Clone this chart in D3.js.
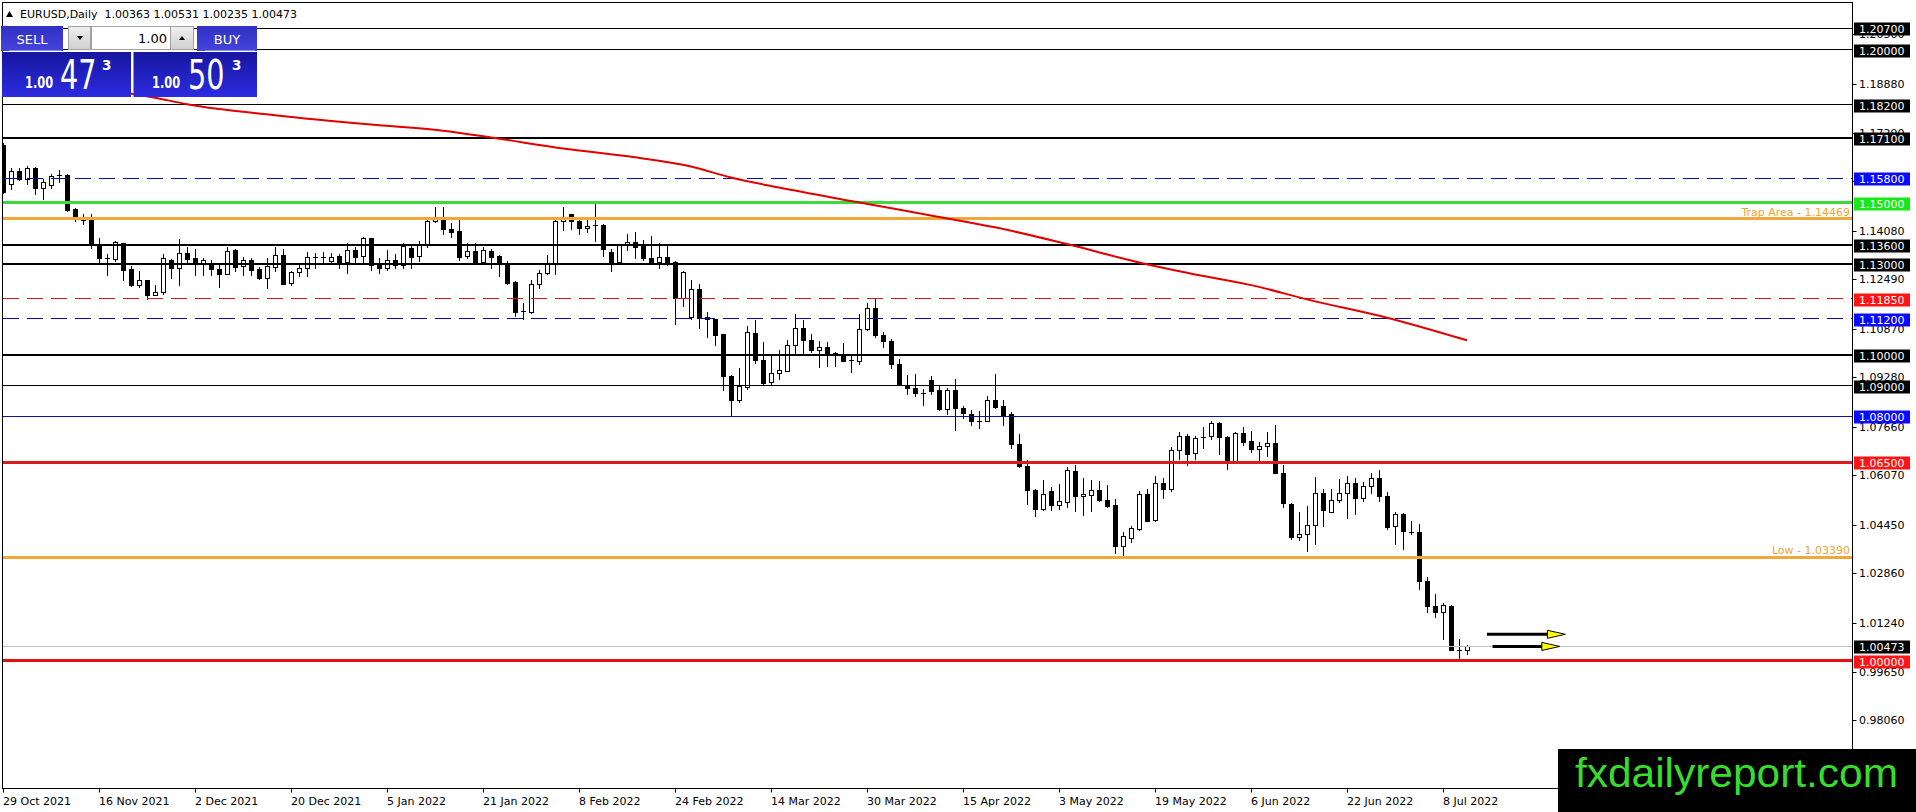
<!DOCTYPE html>
<html>
<head>
<meta charset="utf-8">
<script src="https://cdn.jsdelivr.net/npm/d3@7/dist/d3.min.js"></script>
<style>
html,body{margin:0;padding:0;background:#fff;overflow:hidden;}
svg{display:block;font-family:"DejaVu Sans",sans-serif;}
</style>
</head>
<body>
<svg id="chart" width="1916" height="812"></svg>
<script>
// ---------------- DATA ----------------
const symbolName = "EURUSD,Daily";
const dateLabels = ["29 Oct 2021","16 Nov 2021","2 Dec 2021","20 Dec 2021","5 Jan 2022","21 Jan 2022","8 Feb 2022","24 Feb 2022","14 Mar 2022","30 Mar 2022","15 Apr 2022","3 May 2022","19 May 2022","6 Jun 2022","22 Jun 2022","8 Jul 2022"];
const dateLabelBars = [0,12,24,36,48,60,72,84,96,108,120,132,144,156,168,180];

const opens = [1.1688,1.1560,1.1603,1.1576,1.1614,1.1549,1.1557,1.1588,1.1590,1.1480,1.1443,1.1445,1.1365,1.1317,1.1316,1.1366,1.1283,1.1230,1.1246,1.1196,
1.1206,1.1312,1.1287,1.1334,1.1318,1.1302,1.1298,1.1284,1.1266,1.1344,1.1291,1.1312,1.1281,1.1254,1.1290,1.1327,1.1237,1.1274,1.1285,1.1322,
1.1322,1.1310,1.1325,1.1307,1.1344,1.1324,1.1383,1.1298,1.1285,1.1311,1.1296,1.1351,1.1324,1.1364,1.1440,1.1453,1.1413,1.1407,1.1324,1.1341,
1.1307,1.1341,1.1324,1.1300,1.1240,1.1143,1.1143,1.1233,1.1269,1.1300,1.1438,1.1462,1.1440,1.1416,1.1426,1.1427,1.1339,1.1304,1.1360,1.1371,
1.1360,1.1317,1.1307,1.1322,1.1307,1.1187,1.1124,1.1216,1.1124,1.1120,1.1069,1.0931,1.0855,1.0896,1.1074,1.0986,1.0913,1.0943,1.0949,1.1033,
1.1091,1.1051,1.1016,1.1027,1.1006,1.1000,1.0984,1.0981,1.1087,1.1156,1.1068,1.1046,1.0973,1.0904,1.0894,1.0878,1.0920,1.0885,1.0825,1.0888,
1.0829,1.0809,1.0786,1.0785,1.0853,1.0833,1.0809,1.0711,1.0637,1.0558,1.0498,1.0555,1.0509,1.0520,1.0623,1.0538,1.0543,1.0559,1.0527,1.0510,
1.0377,1.0402,1.0432,1.0546,1.0461,1.0582,1.0561,1.0690,1.0735,1.0681,1.0731,1.0735,1.0779,1.0734,1.0652,1.0746,1.0719,1.0694,1.0702,1.0713,
1.0615,1.0514,1.0405,1.0415,1.0445,1.0550,1.0488,1.0525,1.0548,1.0581,1.0534,1.0572,1.0599,1.0541,1.0441,1.0481,1.0422,1.0423,1.0261,1.0181,
1.0159,1.0178,1.0037,1.00363];
const highs = [1.1695,1.1612,1.1614,1.1620,1.1616,1.1576,1.1594,1.1605,1.1594,1.1483,1.1461,1.1461,1.1383,1.1330,1.1374,1.1368,1.1292,1.1275,1.1248,1.1230,
1.1333,1.1316,1.1382,1.1355,1.1347,1.1320,1.1311,1.1298,1.1353,1.1347,1.1322,1.1320,1.1288,1.1320,1.1355,1.1347,1.1276,1.1298,1.1338,1.1336,
1.1338,1.1336,1.1333,1.1366,1.1355,1.1388,1.1385,1.1320,1.1344,1.1331,1.1366,1.1358,1.1375,1.1453,1.1484,1.1484,1.1432,1.1445,1.1367,1.1367,
1.1353,1.1347,1.1329,1.1309,1.1244,1.1171,1.1246,1.1279,1.1329,1.1445,1.1484,1.1464,1.1442,1.1445,1.1497,1.1429,1.1347,1.1364,1.1396,1.1402,
1.1377,1.1391,1.1367,1.1358,1.1309,1.1276,1.1246,1.1233,1.1142,1.1120,1.1071,1.0935,1.0960,1.1095,1.1117,1.1044,1.0997,1.1019,1.1049,1.1136,
1.1117,1.1071,1.1046,1.1044,1.1011,1.1040,1.1000,1.1136,1.1171,1.1185,1.1076,1.1055,1.0989,1.0937,1.0940,1.0891,1.0931,1.0902,1.0894,1.0924,
1.0833,1.0822,1.0817,1.0866,1.0938,1.0853,1.0815,1.0741,1.0656,1.0564,1.0593,1.0569,1.0578,1.0635,1.0642,1.0599,1.0592,1.0588,1.0577,1.0530,
1.0421,1.0443,1.0557,1.0563,1.0606,1.0599,1.0699,1.0748,1.0743,1.0737,1.0767,1.0786,1.0781,1.0737,1.0748,1.0765,1.0751,1.0715,1.0748,1.0773,
1.0642,1.0516,1.0486,1.0508,1.0603,1.0561,1.0563,1.0594,1.0606,1.0597,1.0584,1.0614,1.0626,1.0553,1.0486,1.0483,1.0459,1.0448,1.0274,1.0219,
1.0189,1.0184,1.0071,1.00531];
const lows = [1.1530,1.1543,1.1573,1.1560,1.1527,1.1511,1.1549,1.1568,1.1473,1.1441,1.1431,1.1352,1.1306,1.1262,1.1310,1.1248,1.1227,1.1225,1.1183,1.1196,
1.1202,1.1254,1.1230,1.1299,1.1262,1.1263,1.1263,1.1225,1.1266,1.1276,1.1263,1.1263,1.1250,1.1219,1.1276,1.1232,1.1229,1.1258,1.1260,1.1286,
1.1300,1.1300,1.1287,1.1271,1.1300,1.1304,1.1279,1.1271,1.1279,1.1285,1.1287,1.1285,1.1309,1.1353,1.1435,1.1396,1.1388,1.1312,1.1317,1.1304,
1.1304,1.1287,1.1260,1.1233,1.1129,1.1118,1.1137,1.1220,1.1265,1.1265,1.1409,1.1413,1.1396,1.1402,1.1375,1.1325,1.1276,1.1300,1.1344,1.1320,
1.1312,1.1304,1.1287,1.1296,1.1104,1.1162,1.1118,1.1091,1.1060,1.1033,1.0888,1.0804,1.0847,1.0891,1.0975,1.0902,1.0902,1.0924,1.0949,1.1005,
1.1003,1.1011,1.0962,1.0964,1.0964,1.0981,1.0945,1.0971,1.1084,1.1060,1.1027,1.0960,1.0902,1.0875,1.0866,1.0839,1.0875,1.0822,1.0809,1.0757,
1.0796,1.0771,1.0763,1.0785,1.0826,1.0771,1.0698,1.0635,1.0514,1.0473,1.0493,1.0493,1.0498,1.0505,1.0490,1.0479,1.0492,1.0522,1.0503,1.0352,
1.0348,1.0388,1.0429,1.0457,1.0457,1.0532,1.0555,1.0661,1.0642,1.0661,1.0697,1.0726,1.0677,1.0628,1.0647,1.0705,1.0683,1.0653,1.0672,1.0614,
1.0503,1.0399,1.0394,1.0359,1.0381,1.0443,1.0488,1.0519,1.0468,1.0481,1.0522,1.0549,1.0523,1.0432,1.0383,1.0366,1.0415,1.0235,1.0159,1.0143,
1.0072,1.0034,1.0000,1.00235];
const closes = [1.1533,1.1603,1.1576,1.1614,1.1549,1.1567,1.1587,1.1589,1.1477,1.1450,1.1442,1.1365,1.1317,1.1318,1.1371,1.1278,1.1230,1.1245,1.1196,1.1206,
1.1318,1.1287,1.1334,1.1316,1.1298,1.1311,1.1282,1.1267,1.1340,1.1289,1.1313,1.1280,1.1254,1.1292,1.1327,1.1234,1.1274,1.1285,1.1323,1.1323,
1.1322,1.1323,1.1307,1.1344,1.1323,1.1383,1.1296,1.1285,1.1311,1.1296,1.1358,1.1323,1.1364,1.1440,1.1453,1.1413,1.1402,1.1323,1.1341,1.1307,
1.1344,1.1323,1.1301,1.1237,1.1143,1.1144,1.1233,1.1269,1.1300,1.1440,1.1445,1.1440,1.1416,1.1424,1.1425,1.1347,1.1304,1.1360,1.1371,1.1355,
1.1320,1.1307,1.1322,1.1300,1.1187,1.1273,1.1216,1.1123,1.1120,1.1065,1.0932,1.0855,1.0899,1.1076,1.0986,1.0909,1.0943,1.0951,1.1033,1.1091,
1.1049,1.1016,1.1027,1.1000,1.1004,1.0981,1.0983,1.1087,1.1156,1.1068,1.1047,1.0973,1.0902,1.0893,1.0877,1.0877,1.0883,1.0823,1.0888,1.0829,
1.0812,1.0784,1.0785,1.0853,1.0831,1.0800,1.0711,1.0637,1.0558,1.0498,1.0545,1.0509,1.0522,1.0624,1.0538,1.0546,1.0559,1.0525,1.0508,1.0377,
1.0410,1.0435,1.0546,1.0457,1.0581,1.0561,1.0690,1.0735,1.0677,1.0730,1.0732,1.0778,1.0732,1.0652,1.0746,1.0715,1.0694,1.0702,1.0712,1.0614,
1.0516,1.0405,1.0415,1.0445,1.0550,1.0494,1.0525,1.0548,1.0581,1.0534,1.0573,1.0599,1.0539,1.0437,1.0481,1.0424,1.0421,1.0261,1.0181,1.0159,
1.0183,1.0037,1.0037,1.00473];

// moving average (at sample bars; left part runs behind the trade panel)
const maBars   = [0,19,23,34,46,55,61,70,79,86,91,97,106,117,124,133,142,148,157,163,173,183];
const maValues = [1.1912,1.1843,1.1822,1.1786,1.1755,1.1735,1.1713,1.1677,1.1648,1.1618,1.1582,1.1549,1.1505,1.1453,1.1419,1.1364,1.1304,1.1270,1.1224,1.1183,1.1123,1.1049];

const priceTicks = [1.20500,1.18880,1.17290,1.15700,1.14080,1.12490,1.10870,1.09280,1.07660,1.06070,1.04450,1.02860,1.01240,0.99650,0.98060,0.96440];

const levelValues = [1.20700,1.20000,1.18200,1.17100,1.15800,1.15000,1.14469,1.13600,1.13000,1.11850,1.11200,1.10000,1.09000,1.08000,1.06500,1.03390,1.00473,1.00000];
const levelKinds  = ["black1","black1","black1","black2","blueDash","green","orange","black2","black2","redDash","blueDash","black2","black1","blue1","red2","orange","bid","red3"];
const levelNotes  = ["","","","","","","Trap Area - 1.14469","","","","","","","","","Low - 1.03390","",""];

const arrowFromBar = [185.5,186.2];
const arrowToBar   = [195.3,194.6];
const arrowPrice   = [1.0087,1.00473];

const lotSize = "1.00";
const sellQuote = {big:"1.00", pips:"47", frac:"3"};
const buyQuote  = {big:"1.00", pips:"50", frac:"3"};
const brandText = "fxdailyreport.com";

// ---------------- STYLES ----------------
const levelStyle = {
  black1:{stroke:"#000",w:1,box:"#000"},
  black2:{stroke:"#000",w:2,box:"#000"},
  blueDash:{stroke:"#0c0c9c",w:1,dash:"16,8",box:"#0a0aff"},
  redDash:{stroke:"#dc1818",w:1,dash:"16,8",box:"#ff1414"},
  green:{stroke:"#3cd83c",w:3,box:"#18e818"},
  orange:{stroke:"#f2a73a",w:3,box:null},
  blue1:{stroke:"#10109c",w:1,box:"#0a0aff"},
  red2:{stroke:"#dc1c1c",w:3,box:"#ff1414"},
  red3:{stroke:"#e41010",w:3,box:"#ff1414"},
  bid:{stroke:"#c0c0c0",w:1,box:"#000"}
};

// ---------------- SCALES ----------------
const PL = 2.5, PT = 2.5, PR = 1852.5, PB = 788.5;
const x = d3.scaleLinear().domain([0,183]).range([3,1467]);
const y = d3.scaleLinear().domain([0.9584,1.2154]).range([788,2.7]);

const svg = d3.select("#chart");
const defs = svg.append("defs");
defs.append("clipPath").attr("id","plotClip").append("rect")
  .attr("x",PL).attr("y",PT).attr("width",PR-PL).attr("height",PB-PT);

svg.append("rect").attr("width",1916).attr("height",812).attr("fill","#fff");

// right axis ticks + labels
const axisG = svg.append("g");
axisG.selectAll("line.tk").data(priceTicks).join("line")
  .attr("x1",PR).attr("x2",PR+4)
  .attr("y1",d=>Math.round(y(d))+0.5).attr("y2",d=>Math.round(y(d))+0.5)
  .attr("stroke","#000");
axisG.selectAll("text.tk").data(priceTicks).join("text")
  .attr("x",1859).attr("y",d=>y(d)+4)
  .attr("font-size",11).attr("fill","#000")
  .text(d=>d3.format(".5f")(d));

// bottom date axis
const dateG = svg.append("g");
dateG.selectAll("line").data(dateLabelBars).join("line")
  .attr("x1",d=>Math.round(x(d))+0.5).attr("x2",d=>Math.round(x(d))+0.5)
  .attr("y1",PB).attr("y2",PB+4).attr("stroke","#000");
dateG.selectAll("text").data(dateLabels).join("text")
  .attr("x",(d,i)=>x(dateLabelBars[i])).attr("y",805)
  .attr("font-size",11).attr("fill","#000").text(d=>d);

// plot
const plotG = svg.append("g").attr("clip-path","url(#plotClip)");

// candles
const bars = d3.range(opens.length).map(i=>({i,o:opens[i],h:highs[i],l:lows[i],c:closes[i]}));
const cg = plotG.append("g").attr("shape-rendering","crispEdges");
cg.selectAll("line.wick").data(bars).join("line")
  .attr("x1",d=>Math.round(x(d.i))+0.5).attr("x2",d=>Math.round(x(d.i))+0.5)
  .attr("y1",d=>Math.round(y(d.h))).attr("y2",d=>Math.round(y(d.l))+1)
  .attr("stroke","#000").attr("stroke-width",1);
bars.forEach(d=>{
  const cx = Math.round(x(d.i));
  const top = Math.round(y(Math.max(d.o,d.c)));
  const bot = Math.round(y(Math.min(d.o,d.c)));
  if (bot - top <= 1) {
    cg.append("line").attr("x1",cx-2).attr("x2",cx+3).attr("y1",top+0.5).attr("y2",top+0.5).attr("stroke","#000");
  } else if (d.c < d.o) {
    cg.append("rect").attr("x",cx-2).attr("y",top).attr("width",5).attr("height",bot-top+1).attr("fill","#000");
  } else {
    cg.append("rect").attr("x",cx-1.5).attr("y",top+0.5).attr("width",4).attr("height",bot-top).attr("fill","#fff").attr("stroke","#000");
  }
});

// horizontal levels
const levels = levelValues.map((v,i)=>({v,kind:levelKinds[i],note:levelNotes[i]}));
const lg = plotG.append("g");
lg.selectAll("line").data(levels).join("line")
  .attr("x1",PL).attr("x2",PR)
  .attr("y1",d=>y(d.v)).attr("y2",d=>y(d.v))
  .attr("stroke",d=>levelStyle[d.kind].stroke)
  .attr("stroke-width",d=>levelStyle[d.kind].w)
  .attr("stroke-dasharray",d=>levelStyle[d.kind].dash||null)
  .attr("shape-rendering","crispEdges");
lg.selectAll("text").data(levels.filter(d=>d.note)).join("text")
  .attr("x",1850).attr("y",d=>y(d.v)-3).attr("text-anchor","end")
  .attr("font-size",11).attr("fill","#f0a532").text(d=>d.note);

// moving average
const maPts = maBars.map((b,i)=>[x(b),y(maValues[i])]);
plotG.append("path").attr("d",d3.line().curve(d3.curveMonotoneX)(maPts))
  .attr("fill","none").attr("stroke","#e00000").attr("stroke-width",2);

// arrows
const ag = plotG.append("g");
arrowPrice.forEach((p,i)=>{
  const yy = y(p), x0 = x(arrowFromBar[i]), x1 = x(arrowToBar[i]);
  ag.append("line").attr("x1",x0).attr("x2",x1-14).attr("y1",yy).attr("y2",yy)
    .attr("stroke","#000").attr("stroke-width",3);
  ag.append("path").attr("d",`M${x1-18},${yy-4} L${x1},${yy} L${x1-18},${yy+4} Z`)
    .attr("fill","#ffff00").attr("stroke","#000").attr("stroke-width",1);
});

// frame
svg.append("rect").attr("x",PL).attr("y",PT).attr("width",PR-PL).attr("height",PB-PT)
  .attr("fill","none").attr("stroke","#000").attr("shape-rendering","crispEdges");

// level boxes on right axis
const bg = svg.append("g");
const boxed = levels.filter(d=>levelStyle[d.kind].box);
bg.selectAll("rect").data(boxed).join("rect")
  .attr("x",1854).attr("y",d=>Math.round(y(d.v))-5.5).attr("width",56).attr("height",13)
  .attr("fill",d=>levelStyle[d.kind].box);
bg.selectAll("text").data(boxed).join("text")
  .attr("x",1859).attr("y",d=>Math.round(y(d.v))+5)
  .attr("font-size",11).attr("fill","#fff").text(d=>d3.format(".5f")(d.v));

// header
const last = bars[bars.length-1];
svg.append("path").attr("d","M6,17 L9.5,11 L13,17 Z").attr("fill","#000");
svg.append("text").attr("x",20).attr("y",18).attr("font-size",11).attr("fill","#000")
  .attr("xml:space","preserve")
  .text(`${symbolName}  ${[last.o,last.h,last.l,last.c].map(d3.format(".5f")).join(" ")}`);

// trade panel
const grBox = defs.append("linearGradient").attr("id","gBox").attr("x1",0).attr("y1",0).attr("x2",0).attr("y2",1);
grBox.append("stop").attr("offset","0%").attr("stop-color","#16169e");
grBox.append("stop").attr("offset","100%").attr("stop-color","#2c2ce2");
const grBtn = defs.append("linearGradient").attr("id","gBtn").attr("x1",0).attr("y1",0).attr("x2",0).attr("y2",1);
grBtn.append("stop").attr("offset","0%").attr("stop-color","#3030c4");
grBtn.append("stop").attr("offset","100%").attr("stop-color","#4444dc");
const grGray = defs.append("linearGradient").attr("id","gGray").attr("x1",0).attr("y1",0).attr("x2",0).attr("y2",1);
grGray.append("stop").attr("offset","0%").attr("stop-color","#f0f0f0");
grGray.append("stop").attr("offset","100%").attr("stop-color","#cfcfcf");

const pg = svg.append("g");
// SELL / BUY buttons
[[1,62,"SELL"],[197,60,"BUY"]].forEach(([bx,bw,t])=>{
  pg.append("rect").attr("x",bx).attr("y",26).attr("width",bw).attr("height",25).attr("fill","url(#gBtn)");
  pg.append("line").attr("x1",bx+8).attr("x2",bx+bw-2).attr("y1",50.5).attr("y2",50.5).attr("stroke","#8c8cf0");
  pg.append("text").attr("x",bx+bw/2).attr("y",44).attr("text-anchor","middle")
    .attr("font-size",13).attr("fill","#fff").text(t);
});
// dropdown, lot field, up button
pg.append("rect").attr("x",68.5).attr("y",26.5).attr("width",22).attr("height",23).attr("fill","url(#gGray)").attr("stroke","#a0a0a0");
pg.append("path").attr("d","M77,36 L83,36 L80,40 Z").attr("fill","#000");
pg.append("rect").attr("x",91.5).attr("y",26.5).attr("width",79).attr("height",23).attr("fill","#fff").attr("stroke","#a0a0a0");
pg.append("text").attr("x",167).attr("y",43).attr("text-anchor","end").attr("font-size",13).attr("fill","#000").text(lotSize);
pg.append("rect").attr("x",170.5).attr("y",26.5).attr("width",23).attr("height",23).attr("fill","url(#gGray)").attr("stroke","#a0a0a0");
pg.append("path").attr("d","M179,40 L185,40 L182,36 Z").attr("fill","#000");
// price boxes
[[2,129,sellQuote,25,60,102],[133.5,123.5,buyQuote,152,188,232]].forEach(([bx,bw,q,bxT,pxT,fxT])=>{
  pg.append("rect").attr("x",bx).attr("y",52).attr("width",bw).attr("height",45).attr("fill","url(#gBox)");
  pg.append("text").attr("transform",`translate(${bxT},88) scale(0.76,1)`)
    .attr("font-size",15).attr("font-weight","bold").attr("fill","#fff").text(q.big);
  pg.append("text").attr("transform",`translate(${pxT},88.5) scale(0.70,1)`)
    .attr("font-size",41).attr("fill","#fff").text(q.pips);
  pg.append("text").attr("x",fxT).attr("y",70).attr("font-size",13.5).attr("font-weight","bold")
    .attr("fill","#fff").text(q.frac);
});

// brand box
svg.append("rect").attr("x",1558).attr("y",749).attr("width",358).attr("height",63).attr("fill","#000");
svg.append("text").attr("x",1575).attr("y",787).attr("font-family","'Liberation Sans',Arial,sans-serif")
  .attr("font-size",40).attr("fill","#37dc2e").attr("textLength",323).attr("lengthAdjust","spacingAndGlyphs")
  .text(brandText);
</script>
</body>
</html>
